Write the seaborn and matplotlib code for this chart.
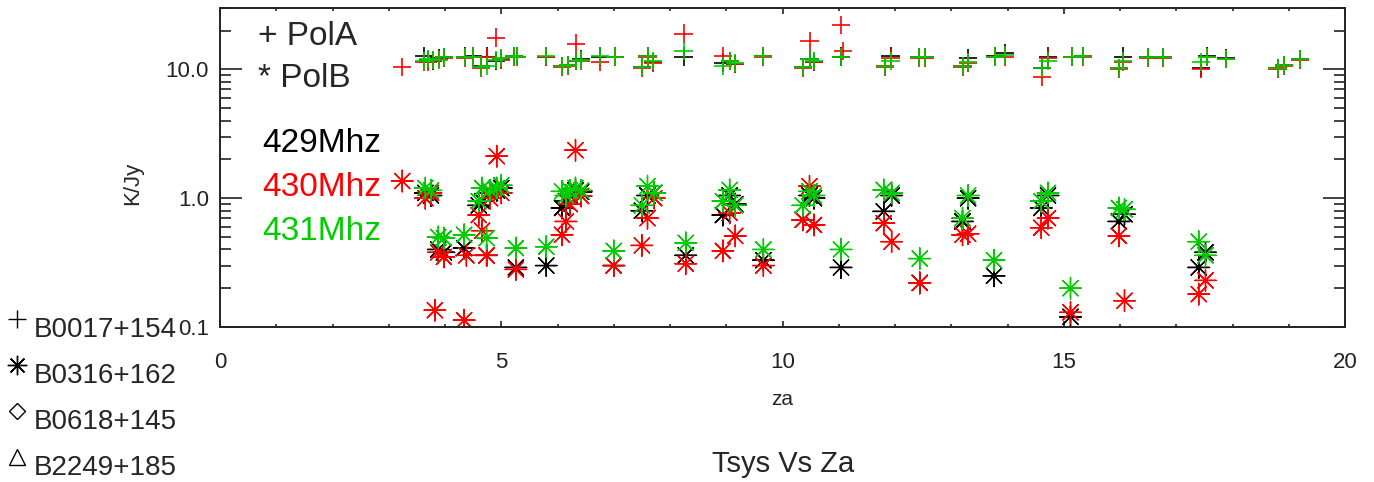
import numpy as np
import pandas as pd
import seaborn as sns
import matplotlib.pyplot as plt
from matplotlib.lines import Line2D
from matplotlib.ticker import FixedLocator, FuncFormatter, MultipleLocator

nan = np.nan

# PolA (plus markers)
za_a = [3.24, 3.62, 3.70, 3.78, 3.90, 3.98, 4.36, 4.50, 4.64, 4.74, 4.90, 5.00, 5.22, 5.28,
        5.80, 6.08, 6.19, 6.33, 6.42, 6.76, 7.02, 7.50, 7.60, 7.70, 8.24, 8.94, 9.06, 9.16,
        9.66, 10.36, 10.48, 10.56, 11.04, 11.08, 11.82, 11.92, 12.42, 12.54, 13.20, 13.30,
        13.78, 13.96, 14.62, 14.72, 15.14, 15.35, 15.98, 16.06, 16.50, 16.76, 17.44, 17.55,
        17.88, 18.80, 18.92, 19.20]
pola_429 = [nan, 12.8, 11.9, 11.6, 12.2, 12.4, 12.6, 12.7, 10.6, 12.6, 11.7, 12.1, 12.8, 12.6,
            12.6, 10.6, 10.9, 11.7, 12.0, 12.6, 12.6, 10.4, 12.8, 11.5, 12.6, 11.2, 11.7, 11.1,
            12.8, 10.4, 12.1, 11.5, 12.6, nan, 10.6, 12.7, 12.4, 12.4, 10.6, 12.2,
            12.7, 13.3, 10.2, 12.6, 12.6, 12.8, 10.2, 12.6, 12.4, 12.5, 10.3, 12.7,
            12.2, 10.3, 10.9, 12.1]
pola_430 = [10.5, 11.5, 11.4, 11.8, 12.0, 12.2, 12.3, 12.5, 10.3, 12.4, 17.7, 11.8, 12.5, 12.4,
            12.4, 10.5, 10.6, 15.9, 11.7, 11.5, 12.4, 10.2, 12.6, 11.3, 19.0, 12.8, 11.6, 11.0,
            12.6, 10.3, 16.5, 11.4, 22.0, 14.0, 10.5, 12.3, 12.2, 12.2, 10.5, 11.2,
            12.4, 12.6, 8.8, 12.3, 12.4, 12.6, 10.0, 11.4, 12.2, 12.3, 10.1, 12.4,
            12.0, 10.1, 10.6, 11.9]
pola_431 = [nan, 11.6, 12.0, 11.9, 11.8, 12.5, 12.5, 12.6, 10.5, 10.7, 11.8, 12.2, 12.7, 12.6,
            12.7, 10.7, 10.8, 11.7, 11.8, 12.7, 12.6, 10.5, 12.7, 11.6, 13.8, 10.7, 11.7, 11.2,
            12.7, 10.5, 12.0, 11.6, 12.4, nan, 10.7, 11.6, 12.5, 12.5, 10.7, 11.4,
            12.6, 12.9, 10.3, 11.6, 12.6, 12.7, 10.3, 11.6, 12.4, 12.4, 11.5, 12.5,
            12.1, 10.3, 10.8, 12.0]

# PolB (asterisk markers)
za_b = [3.24, 3.65, 3.75, 3.82, 3.88, 3.98, 4.34, 4.38, 4.60, 4.66, 4.74, 4.80, 4.92, 5.00,
        5.26, 5.80, 6.08, 6.15, 6.22, 6.32, 6.42, 7.00, 7.50, 7.60, 7.72, 8.28, 8.94, 9.06,
        9.16, 9.66, 10.36, 10.48, 10.56, 11.04, 11.80, 11.94, 12.44, 13.20, 13.30, 13.76,
        14.60, 14.72, 15.12, 15.98, 16.08, 17.40, 17.52]
polb_429 = [nan, 1.10, 1.05, nan, 0.40, 0.38, 0.41, nan, 0.88, 0.95, 0.36, 1.10, 1.15, 1.20,
            0.29, 0.30, 0.84, 0.95, 1.05, 1.15, 1.12, 0.30, 0.80, 1.05, 1.10, 0.36, 0.74, 1.05,
            0.90, 0.33, 0.68, 1.05, 1.00, 0.29, 0.79, 1.05, 0.22, 0.66, 1.00, 0.25,
            0.84, 1.05, 0.12, 0.66, 0.75, 0.29, 0.38]
polb_430 = [1.36, 1.00, 1.10, 0.135, 0.38, 0.35, 0.113, 0.36, 0.74, 0.56, 0.36, 1.00, 2.12, 1.10,
            0.28, nan, 0.52, 0.66, 0.90, 2.36, 1.04, 0.30, 0.43, 0.70, 1.00, 0.31, 0.39, 0.77,
            0.51, 0.30, 0.68, 1.24, 0.62, nan, 0.64, 0.46, 0.22, 0.52, 0.53, nan,
            0.59, 0.70, 0.13, 0.51, 0.16, 0.18, 0.23]
polb_431 = [nan, 1.20, 1.15, nan, 0.50, 0.49, 0.52, nan, 0.95, 1.20, 0.49, 1.15, 1.20, 1.26,
            0.41, 0.42, 1.13, 1.05, 1.15, 1.20, 1.15, 0.39, 0.88, 1.24, 1.10, 0.45, 0.95, 1.16,
            0.88, 0.40, 0.88, 1.13, 1.05, 0.40, 1.16, 1.10, 0.34, 0.70, 1.05, 0.33,
            0.95, 1.10, 0.20, 0.84, 0.82, 0.46, 0.36]

freqs = ['429Mhz', '430Mhz', '431Mhz']
colors = ['#000000', '#ff0000', '#00cc00']
sources = ['B0017+154', 'B0316+162', 'B0618+145', 'B2249+185']


def long_frame(za, series):
    parts = []
    for f, vals in zip(freqs, series):
        parts.append(pd.DataFrame({'za': za, 'kjy': vals, 'freq': f}))
    return pd.concat(parts, ignore_index=True).dropna()


df_a = long_frame(za_a, [pola_429, pola_430, pola_431])
df_b = long_frame(za_b, [polb_429, polb_430, polb_431])

sns.set_style('ticks')
plt.rcParams['font.family'] = ['Liberation Sans', 'DejaVu Sans']

W, H = 1374, 482
fig = plt.figure(figsize=(W / 100, H / 100), dpi=100)
ax = fig.add_axes([220 / W, 1 - 327 / H, (1345 - 220) / W, (327 - 8) / H])

pal = dict(zip(freqs, colors))
sns.scatterplot(data=df_a, x='za', y='kjy', hue='freq', palette=pal, marker='+',
                s=170, linewidth=1.2, legend=False, ax=ax)
sns.scatterplot(data=df_b, x='za', y='kjy', hue='freq', palette=pal, marker=(8, 2, 0),
                s=240, linewidth=1.0, legend=False, ax=ax)

ax.set_yscale('log')
ax.set_xlim(0, 20)
ax.set_ylim(0.1, 30)
ax.xaxis.set_major_locator(MultipleLocator(5))
ax.xaxis.set_minor_locator(MultipleLocator(1))
ax.yaxis.set_major_locator(FixedLocator([0.1, 1, 10]))
ax.yaxis.set_major_formatter(FuncFormatter(lambda v, p: f'{v:.1f}'))
ax.tick_params(axis='both', which='both', direction='in', top=True, right=True,
               labelsize=16, colors='#222222', width=1.2)
ax.tick_params(axis='x', which='major', length=4.6, pad=18)
ax.tick_params(axis='x', which='minor', length=2.3)
ax.tick_params(axis='y', which='major', length=16, pad=8)
ax.tick_params(axis='y', which='minor', length=8)
for sp in ax.spines.values():
    sp.set_linewidth(1.4)
    sp.set_color('#222222')

ax.set_xlabel('za', fontsize=15)
ax.set_ylabel('K/Jy', fontsize=16)
ax.xaxis.set_label_coords(0.5, -0.197)
ax.yaxis.set_label_coords(-0.068, 0.45)

# in-plot annotation
fig.text(258 / W, 1 - 45 / H, '+ PolA', fontsize=24, va='baseline')
fig.text(258 / W, 1 - 87 / H, '* PolB', fontsize=24, va='baseline')
for i, (f, c) in enumerate(zip(freqs, colors)):
    fig.text(262 / W, 1 - (152 + 44 * i) / H, f, fontsize=24, color=c, va='baseline')

# source legend at lower left
src_marks = ['+', (8, 2, 0), 'D', '^']
src_ms = [13, 14, 8, 11]
for i, (src, m) in enumerate(zip(sources, src_marks)):
    yb = 337 + 46 * i
    fig.add_artist(Line2D([17 / W], [1 - (yb - 18) / H], transform=fig.transFigure,
                          marker=m, ms=src_ms[i], mew=1.0, color='black',
                          markerfacecolor='none', linestyle='none'))
    fig.text(34 / W, 1 - yb / H, src, fontsize=20, va='baseline')

fig.text(783 / W, 1 - 472 / H, 'Tsys Vs Za', fontsize=21, ha='center', va='baseline')

fig.savefig('out.png', dpi=100)
